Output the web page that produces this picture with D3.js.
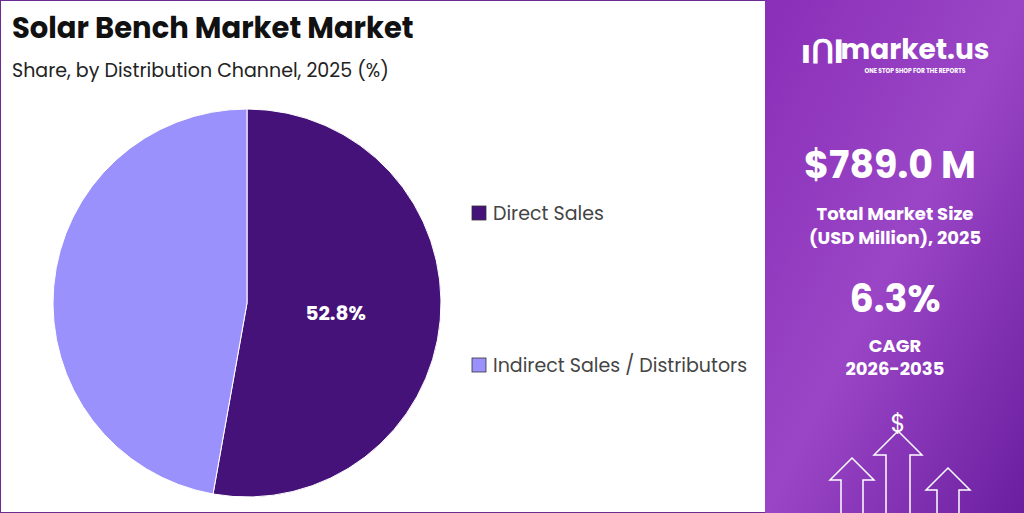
<!DOCTYPE html>
<html><head><meta charset="utf-8">
<script src="https://cdn.jsdelivr.net/npm/d3@7"></script>
<style>body{margin:0;font-family:Poppins,"Open Sans",sans-serif}svg{display:block}</style>
</head><body><svg id="c" width="1024" height="513"></svg>
<script>
const categories=["Direct Sales","Indirect Sales / Distributors"];
const values=[52.8,47.2];
const colors=["#45127a","#9b91fd"];
const svg=d3.select("#c");
svg.append("rect").attr("x",0.5).attr("y",0.5).attr("width",1023).attr("height",512).attr("fill","#fff").attr("stroke","#6a2c91");
const defs=svg.append("defs");
const g=defs.append("linearGradient").attr("id","pg").attr("x1","0").attr("y1","0").attr("x2","1").attr("y2","1");
g.append("stop").attr("offset","0").attr("stop-color","#8a2fb8");
g.append("stop").attr("offset","0.5").attr("stop-color","#9a45c6");
g.append("stop").attr("offset","1").attr("stop-color","#6a1fa0");
svg.append("rect").attr("x",765).attr("y",0).attr("width",259).attr("height",513).attr("fill","url(#pg)");
svg.append("text").attr("x",12).attr("y",38).attr("font-size",29).attr("font-weight",700).attr("fill","#111").text("Solar Bench Market Market");
svg.append("text").attr("x",12).attr("y",77).attr("font-size",19).attr("fill","#222").text("Share, by Distribution Channel, 2025 (%)");
const pie=d3.pie().sort(null)(values);
const arc=d3.arc().innerRadius(0).outerRadius(194);
const pg=svg.append("g").attr("transform","translate(247,303)");
pg.selectAll("path").data(pie).join("path").attr("d",arc).attr("fill",(d,i)=>colors[i]).attr("stroke","#fff").attr("stroke-width",1);
const c0=d3.arc().innerRadius(0).outerRadius(194).centroid(pie[0]);
pg.append("text").attr("x",c0[0]-8).attr("y",c0[1]+8).attr("text-anchor","middle").attr("font-size",20).attr("font-weight",700).attr("fill","#fff").text(values[0].toFixed(1)+"%");
const ly=[213,365];
categories.forEach((c,i)=>{
 svg.append("rect").attr("x",472).attr("y",ly[i]-7).attr("width",14).attr("height",14).attr("fill",colors[i]).attr("stroke","#333").attr("stroke-width",0.8);
 svg.append("text").attr("x",493).attr("y",ly[i]+7).attr("font-size",19).attr("fill","#444").text(c);
});
const R=svg.append("g").attr("fill","#fff").attr("text-anchor","middle");
R.append("text").attr("x",915).attr("y",59).attr("font-size",28).attr("font-weight",700).text("market.us");
R.append("text").attr("x",915).attr("y",73).attr("font-size",6).attr("font-weight",700).text("ONE STOP SHOP FOR THE REPORTS");
R.append("text").attr("x",822).attr("y",63).attr("font-size",32).attr("font-weight",700).text("ıՈl");
R.append("text").attr("x",890).attr("y",178).attr("font-size",38).attr("font-weight",700).text("$789.0 M");
R.append("text").attr("x",895).attr("y",220).attr("font-size",18).attr("font-weight",700).text("Total Market Size");
R.append("text").attr("x",895).attr("y",244).attr("font-size",18).attr("font-weight",700).text("(USD Million), 2025");
R.append("text").attr("x",895).attr("y",312).attr("font-size",38).attr("font-weight",700).text("6.3%");
R.append("text").attr("x",895).attr("y",352).attr("font-size",18).attr("font-weight",700).text("CAGR");
R.append("text").attr("x",895).attr("y",375).attr("font-size",18).attr("font-weight",700).text("2026-2035");
R.append("text").attr("x",898).attr("y",432).attr("font-size",24).text("$");
const arrow=(x,y,w,h)=>`M${x},${y} l${w/2},-${w/2} l${w/2},${w/2} h-${w/4} v${h} h-${w/2} v-${h} z`;
svg.append("path").attr("d",arrow(830,480,44,40)).attr("fill","none").attr("stroke","#fff").attr("stroke-width",1.5);
svg.append("path").attr("d",arrow(874,455,48,70)).attr("fill","none").attr("stroke","#fff").attr("stroke-width",1.5);
svg.append("path").attr("d",arrow(926,490,44,30)).attr("fill","none").attr("stroke","#fff").attr("stroke-width",1.5);
</script></body></html>
